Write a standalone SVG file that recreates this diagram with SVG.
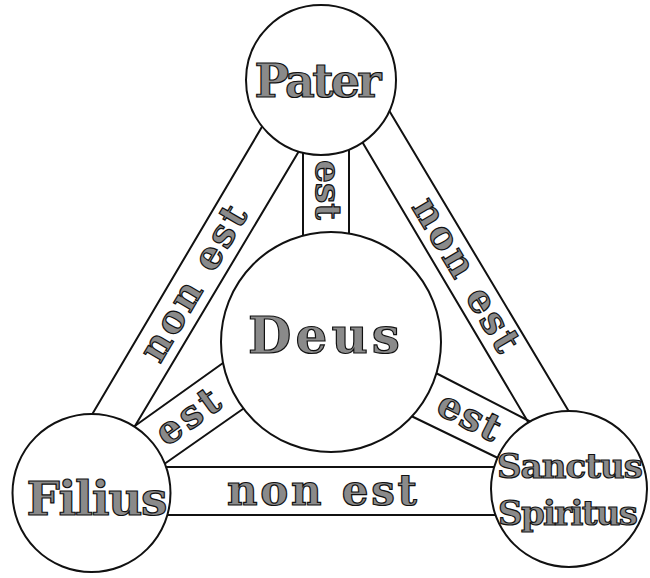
<svg xmlns="http://www.w3.org/2000/svg" width="650" height="578" viewBox="0 0 650 578">
<style>
.band{stroke:#111;stroke-width:2;fill:none;stroke-linecap:round}
.node{fill:#fff;stroke:#111;stroke-width:2}
.t{font-family:"DejaVu Serif","Liberation Serif",serif;font-weight:bold;fill:#8a8a8a;stroke:#111;stroke-width:1.2;text-anchor:middle}
</style>
<rect width="650" height="578" fill="#fff"/>
<g id="connectors">
  <line class="band" x1="266" y1="120" x2="90" y2="418"/>
  <line class="band" x1="302" y1="146" x2="132" y2="431"/>
  <line class="band" x1="387" y1="107" x2="571" y2="415"/>
  <line class="band" x1="354" y1="128" x2="531" y2="427"/>
  <line class="band" x1="150" y1="467" x2="510" y2="467"/>
  <line class="band" x1="150" y1="515" x2="510" y2="515"/>
  <line class="band" x1="303" y1="140" x2="303" y2="245"/>
  <line class="band" x1="349" y1="140" x2="349" y2="245"/>
  <line class="band" x1="230" y1="358" x2="132" y2="428"/>
  <line class="band" x1="250" y1="404" x2="160" y2="467"/>
  <line class="band" x1="430" y1="370" x2="533" y2="423"/>
  <line class="band" x1="405" y1="413" x2="502" y2="460"/>
  <g id="labels">
    <text class="t" font-size="38" textLength="174" transform="translate(194.7 283.9) rotate(-59.5)" y="11">non est</text>
    <text class="t" font-size="38" textLength="173" transform="translate(464.8 275.4) rotate(59.2)" y="11">non est</text>
    <text class="t" font-size="42" textLength="190" x="322" y="505">non est</text>
    <text class="t" font-size="36" textLength="60" transform="translate(326 190) rotate(90)" y="10">est</text>
    <text class="t" font-size="38" textLength="70" transform="translate(188.6 418) rotate(-35.5)" y="11">est</text>
    <text class="t" font-size="38" textLength="66" transform="translate(468.6 417.7) rotate(27)" y="11">est</text>
  </g>
</g>
<g id="pater">
  <circle class="node" cx="321" cy="80" r="75"/>
  <text class="t" font-size="46" textLength="127" x="318" y="97">Pater</text>
</g>
<g id="deus">
  <circle class="node" cx="331" cy="342" r="110"/>
  <text class="t" font-size="50" textLength="152" x="324" y="353">Deus</text>
</g>
<g id="filius">
  <circle class="node" cx="91.5" cy="493" r="79"/>
  <text class="t" font-size="47" textLength="141" x="97" y="515">Filius</text>
</g>
<g id="spiritus">
  <circle class="node" cx="569" cy="489" r="78"/>
  <text class="t" font-size="34" textLength="146" x="570" y="478">Sanctus</text>
  <text class="t" font-size="34" textLength="140" x="568" y="525">Spiritus</text>
</g>
</svg>
